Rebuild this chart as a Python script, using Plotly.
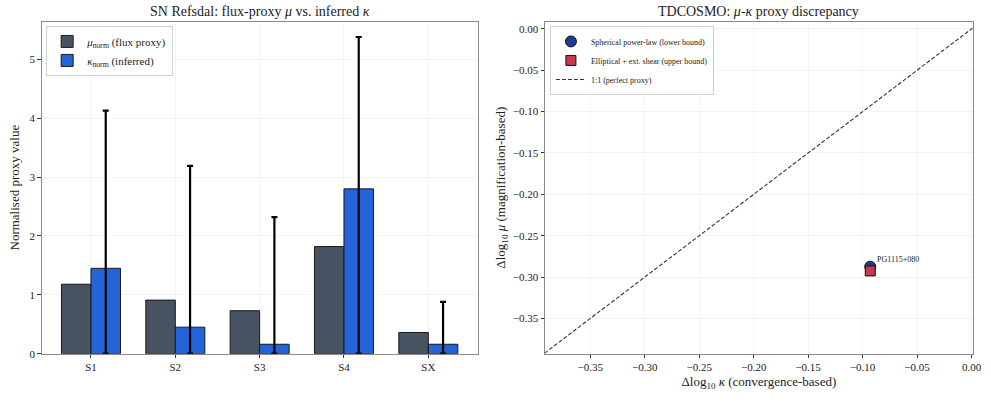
import plotly.graph_objects as go

# ---- data ----
images = ["S1", "S2", "S3", "S4", "SX"]
mu_norm = [1.18, 0.91, 0.73, 1.82, 0.36]
kappa_norm = [1.45, 0.45, 0.16, 2.80, 0.16]
kappa_err_plus = [2.68, 2.74, 2.16, 2.58, 0.72]
kappa_err_minus = [1.45, 0.45, 0.16, 2.80, 0.16]

lens_name = ["PG1115+080"]
dlogk_sph = [-0.093]
dlogmu_sph = [-0.2874]
dlogk_ell = [-0.093]
dlogmu_ell = [-0.2925]
one_to_one = [-0.392, 0.008]

FONT = "Liberation Serif, Times New Roman, serif"
FRAME = "#8a8a8a"
GRID = "rgba(0,0,0,0.045)"

fig = go.Figure()

fig.add_trace(go.Bar(
    x=images, y=mu_norm, name="<i>μ</i><sub>norm</sub> (flux proxy)",
    marker=dict(color="#475361", line=dict(color="#1a1a1a", width=1)),
    xaxis="x", yaxis="y", legend="legend",
))
fig.add_trace(go.Bar(
    x=images, y=kappa_norm, name="<i>κ</i><sub>norm</sub> (inferred)",
    marker=dict(color="#2563d9", line=dict(color="#1a1a1a", width=1)),
    error_y=dict(type="data", symmetric=False, array=kappa_err_plus,
                 arrayminus=kappa_err_minus, color="black", thickness=2.2, width=3),
    xaxis="x", yaxis="y", legend="legend",
))

fig.add_trace(go.Scatter(
    x=dlogk_sph, y=dlogmu_sph, mode="markers",
    name="Spherical power-law (lower bound)",
    marker=dict(symbol="circle", size=11, color="#1f3b8f", line=dict(color="#111", width=1)),
    xaxis="x2", yaxis="y2", legend="legend2",
))
fig.add_trace(go.Scatter(
    x=dlogk_ell, y=dlogmu_ell, mode="markers",
    name="Elliptical + ext. shear (upper bound)",
    marker=dict(symbol="square", size=10, color="#c23a4e", line=dict(color="#111", width=1)),
    xaxis="x2", yaxis="y2", legend="legend2",
))
fig.add_trace(go.Scatter(
    x=one_to_one, y=one_to_one, mode="lines", name="1:1 (perfect proxy)",
    line=dict(color="#333", width=1.1, dash="4px,2px"),
    xaxis="x2", yaxis="y2", legend="legend2",
))

fig.add_annotation(x=dlogk_sph[0], y=dlogmu_sph[0], xref="x2", yref="y2",
                   text=lens_name[0], showarrow=False, xanchor="left", yanchor="bottom",
                   xshift=5, yshift=1, font=dict(size=8, family=FONT, color="#222"))

axcommon = dict(showline=True, linecolor=FRAME, linewidth=1, mirror=True,
                ticks="outside", ticklen=3.5, tickcolor="#333",
                tickfont=dict(size=11, family=FONT, color="#222"),
                showgrid=True, gridcolor=GRID, zeroline=False)

fig.update_layout(
    # initial size leaves room for the default 8px body margin; resized to the window after load
    width=975, height=389,
    margin=dict(l=0, r=0, t=0, b=0),
    paper_bgcolor="white", plot_bgcolor="white",
    font=dict(family=FONT, color="#222"),
    hovermode=False,
    barmode="group", bargap=0.3, bargroupgap=0,
    xaxis=dict(domain=[0.0424, 0.4864], anchor="y", range=[-0.585, 4.585], **axcommon),
    yaxis=dict(domain=[0.1136, 0.9457], anchor="x", range=[0, 5.64],
               tickvals=[0, 1, 2, 3, 4, 5],
               title=dict(text="Normalised proxy value", font=dict(size=13, family=FONT, color="#222"), standoff=6),
               **axcommon),
    xaxis2=dict(domain=[0.555, 0.9905], anchor="y2", range=[-0.3915, 0.001],
                tickvals=[-0.35, -0.30, -0.25, -0.20, -0.15, -0.10, -0.05, 0.0],
                ticktext=["−0.35", "−0.30", "−0.25", "−0.20", "−0.15", "−0.10", "−0.05", "0.00"],
                title=dict(text="Δlog<sub>10</sub> <i>κ</i> (convergence-based)",
                           font=dict(size=13, family=FONT, color="#222"), standoff=4),
                **axcommon),
    yaxis2=dict(domain=[0.1136, 0.9457], anchor="x2", range=[-0.3925, 0.0087],
                tickvals=[-0.35, -0.30, -0.25, -0.20, -0.15, -0.10, -0.05, 0.0],
                ticktext=["−0.35", "−0.30", "−0.25", "−0.20", "−0.15", "−0.10", "−0.05", "0.00"],
                title=dict(text="Δlog<sub>10</sub> <i>μ</i> (magnification-based)",
                           font=dict(size=13, family=FONT, color="#222"), standoff=4),
                **axcommon),
    legend=dict(x=0.047, y=0.935, xref="paper", yref="paper", xanchor="left", yanchor="top",
                bgcolor="rgba(255,255,255,0.9)", bordercolor="#d0d0d0", borderwidth=1,
                font=dict(size=11, family=FONT, color="#222"), itemwidth=30, tracegroupgap=0),
    legend2=dict(x=0.56, y=0.935, xref="paper", yref="paper", xanchor="left", yanchor="top",
                 bgcolor="rgba(255,255,255,0.9)", bordercolor="#d0d0d0", borderwidth=1,
                 font=dict(size=8, family=FONT, color="#222"), itemwidth=30, tracegroupgap=0),
    annotations=list(fig.layout.annotations) + [
        dict(text="SN Refsdal: flux-proxy <i>μ</i> vs. inferred <i>κ</i>", x=0.2644, y=1 - 12 / 405,
             xref="paper", yref="paper", showarrow=False, xanchor="center", yanchor="middle",
             font=dict(size=14, family=FONT, color="#222")),
        dict(text="TDCOSMO: <i>μ</i>-<i>κ</i> proxy discrepancy", x=0.772, y=1 - 12 / 405,
             xref="paper", yref="paper", showarrow=False, xanchor="center", yanchor="middle",
             font=dict(size=14, family=FONT, color="#222")),
    ],
)

post = (
    "document.body.style.margin='0';document.body.style.overflow='hidden';"
    "var gd=document.getElementById('{plot_id}');"
    "var W=window.innerWidth||991, H=window.innerHeight||405;"
    "gd.style.width=W+'px';gd.style.height=H+'px';"
    "return Plotly.relayout(gd,{width:W,height:H});"
)

fig.write_html("out.html", config={"displayModeBar": False}, post_script=post)
